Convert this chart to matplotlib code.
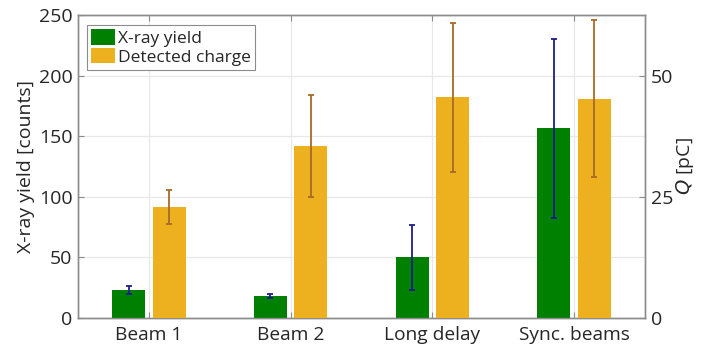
import matplotlib
matplotlib.use("Agg")
import matplotlib.pyplot as plt
import numpy as np
from matplotlib.patches import Patch

plt.rcParams['font.family'] = ['Open Sans', 'DejaVu Sans']

categories = ["Beam 1", "Beam 2", "Long delay", "Sync. beams"]
xray_yield = [23.3, 18.3, 50.0, 156.5]
xray_err = [3.3, 1.9, 27.1, 74.1]
charge_pc = [22.9, 35.5, 45.5, 45.2]
charge_err = [3.6, 10.5, 15.3, 16.2]

green = "#008000"
gold = "#EDB120"
navy = "#1C1C8C"
brown = "#A86A28"
spine_gray = "#8C8C8C"
text_col = "#262626"

fig = plt.figure(figsize=(7.01, 3.45), dpi=100)
ax = fig.add_axes([0.1113, 0.0783, 0.8088, 0.8782])
ax2 = ax.twinx()

x = np.arange(1, len(categories) + 1)
w = 0.233
off = 0.143

ax.bar(x - off, xray_yield, width=w, color=green, zorder=3)
ax.errorbar(x - off, xray_yield, yerr=xray_err, fmt='none', ecolor=navy,
            elinewidth=1.3, capsize=2.4, capthick=1.3, zorder=4)
ax2.bar(x + off, charge_pc, width=w, color=gold, zorder=3)
ax2.errorbar(x + off, charge_pc, yerr=charge_err, fmt='none', ecolor=brown,
             elinewidth=1.3, capsize=2.4, capthick=1.3, zorder=4)

ax.set_xlim(0.5, 4.5)
ax.set_ylim(0, 250)
ax2.set_ylim(0, 62.5)
ax.set_xticks(x)
ax.set_xticklabels(categories)
ax.set_yticks([0, 50, 100, 150, 200, 250])
ax2.set_yticks([0, 25, 50])

ax.grid(True, color="#E8E8E8", linewidth=0.9, zorder=0)
ax.set_axisbelow(True)

for a in (ax, ax2):
    for s in a.spines.values():
        s.set_color(spine_gray)
        s.set_linewidth(1.0)
    a.tick_params(direction='in', length=4, color=spine_gray,
                  labelsize=14, labelcolor=text_col, pad=4)
ax.tick_params(axis='x', top=True, pad=6, labelsize=13.8)

ax.set_ylabel("X-ray yield [counts]", fontsize=14, color=text_col, labelpad=3)
ax2.set_ylabel("$Q$ [pC]", fontsize=14, color=text_col, labelpad=1, rotation=90)

handles = [Patch(facecolor=green), Patch(facecolor=gold)]
leg = ax.legend(handles, ["X-ray yield", "Detected charge"], loc='upper left',
                bbox_to_anchor=(0.015, 0.967), fontsize=12.5, frameon=True,
                fancybox=False, edgecolor=spine_gray, framealpha=1,
                handlelength=1.4, handleheight=1.0, handletextpad=0.15,
                labelspacing=0.05, borderpad=0.25, borderaxespad=0.0)
leg.get_frame().set_linewidth(0.8)
for t in leg.get_texts():
    t.set_color(text_col)

fig.savefig("out.png", dpi=100)
